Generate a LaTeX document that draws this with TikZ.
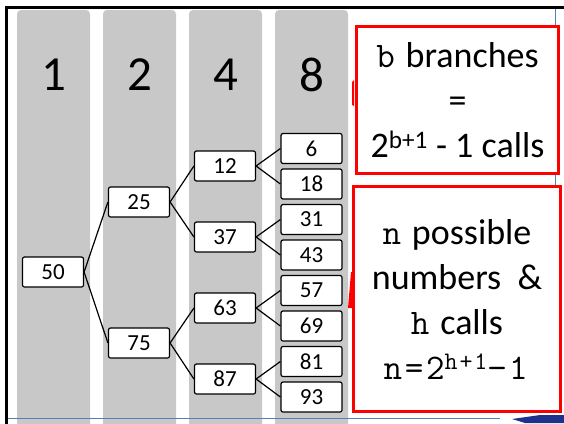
\documentclass[tikz,border=0pt]{standalone}
\usepackage{fontspec}
\setmainfont{Carlito}
\setmonofont{Latin Modern Mono}[LetterSpace=7.5]
\usetikzlibrary{calc}

\definecolor{colgray}{RGB}{200,200,200}
\definecolor{slideblue}{RGB}{79,129,189}
\definecolor{logoblue}{RGB}{30,50,140}

\begin{document}
\begin{tikzpicture}[x=1pt,y=-1pt,
  numbox/.style={draw,line width=1.2pt,rounded corners=2pt,fill=white,
    minimum width=61pt,minimum height=30pt,inner sep=0pt,
    font=\fontsize{23}{23}\selectfont},
  edge/.style={line width=1.2pt},
  notebox/.style={draw=red,line width=2.7pt,fill=white,inner sep=0pt,
    align=center,font=\fontsize{36}{45}\selectfont}]
  \clip (0,0) rectangle (564,423);
  % level columns with their counts
  \foreach \x/\t in {17/1,103/2,189/4,275/8} {
    \fill[colgray,rounded corners=4pt] (\x,10) rectangle ++(73,430);
    \node[font=\fontsize{49}{49}\selectfont] (c\t) at (\x+36.5,75) {\t};
  }
  % slide frame
  \draw[line width=3pt] (6.5,430) -- (6.5,7.5) -- (570,7.5);
  \draw[slideblue,line width=0.6pt] (555,9) -- (555,190);
  \draw[slideblue,line width=0.6pt] (8,418) -- (500,418);
  \fill[logoblue] (512,419) -- (540,415) -- (564,415) -- (564,423) -- (525,423) -- cycle;
  % binary search tree
  \node[numbox] (n50) at (53,272) {50};
  \node[numbox] (n25) at (139,202) {25};
  \node[numbox] (n75) at (139,343) {75};
  \node[numbox] (n12) at (225,166) {12};
  \node[numbox] (n37) at (225,237) {37};
  \node[numbox] (n63) at (225,308) {63};
  \node[numbox] (n87) at (225,379) {87};
  \foreach \v [count=\i] in {6,18,31,43,57,69,81,93}
    \node[numbox] (n\v) at (311.5,{148.5+35.5*(\i-1)}) {\v};
  \foreach \p/\a/\b in {50/25/75,25/12/37,75/63/87,12/6/18,37/31/43,63/57/69,87/81/93}
    \draw[edge] (n\a.west) -- (n\p.east) -- (n\b.west);
  % notes
  \fill[red] (352,82) -- (354,80) -- (354,106) -- (352,105) -- cycle;
  \fill[red] (351,272) -- (352,272) -- (352,308) -- (348,308) -- cycle;
  \node[notebox,minimum width=202pt,minimum height=147pt] (branches) at (457.5,100)
    {\texttt{b} branches\\=\\2\textsuperscript{b+1} - 1 calls};
  \node[notebox,minimum width=207pt,minimum height=225pt] (numbers) at (457,299)
    {\texttt{n} possible\\numbers~ \&\\\texttt{h} calls\\\texttt{n=2\textsuperscript{h+1}−1}};
\end{tikzpicture}
\end{document}
